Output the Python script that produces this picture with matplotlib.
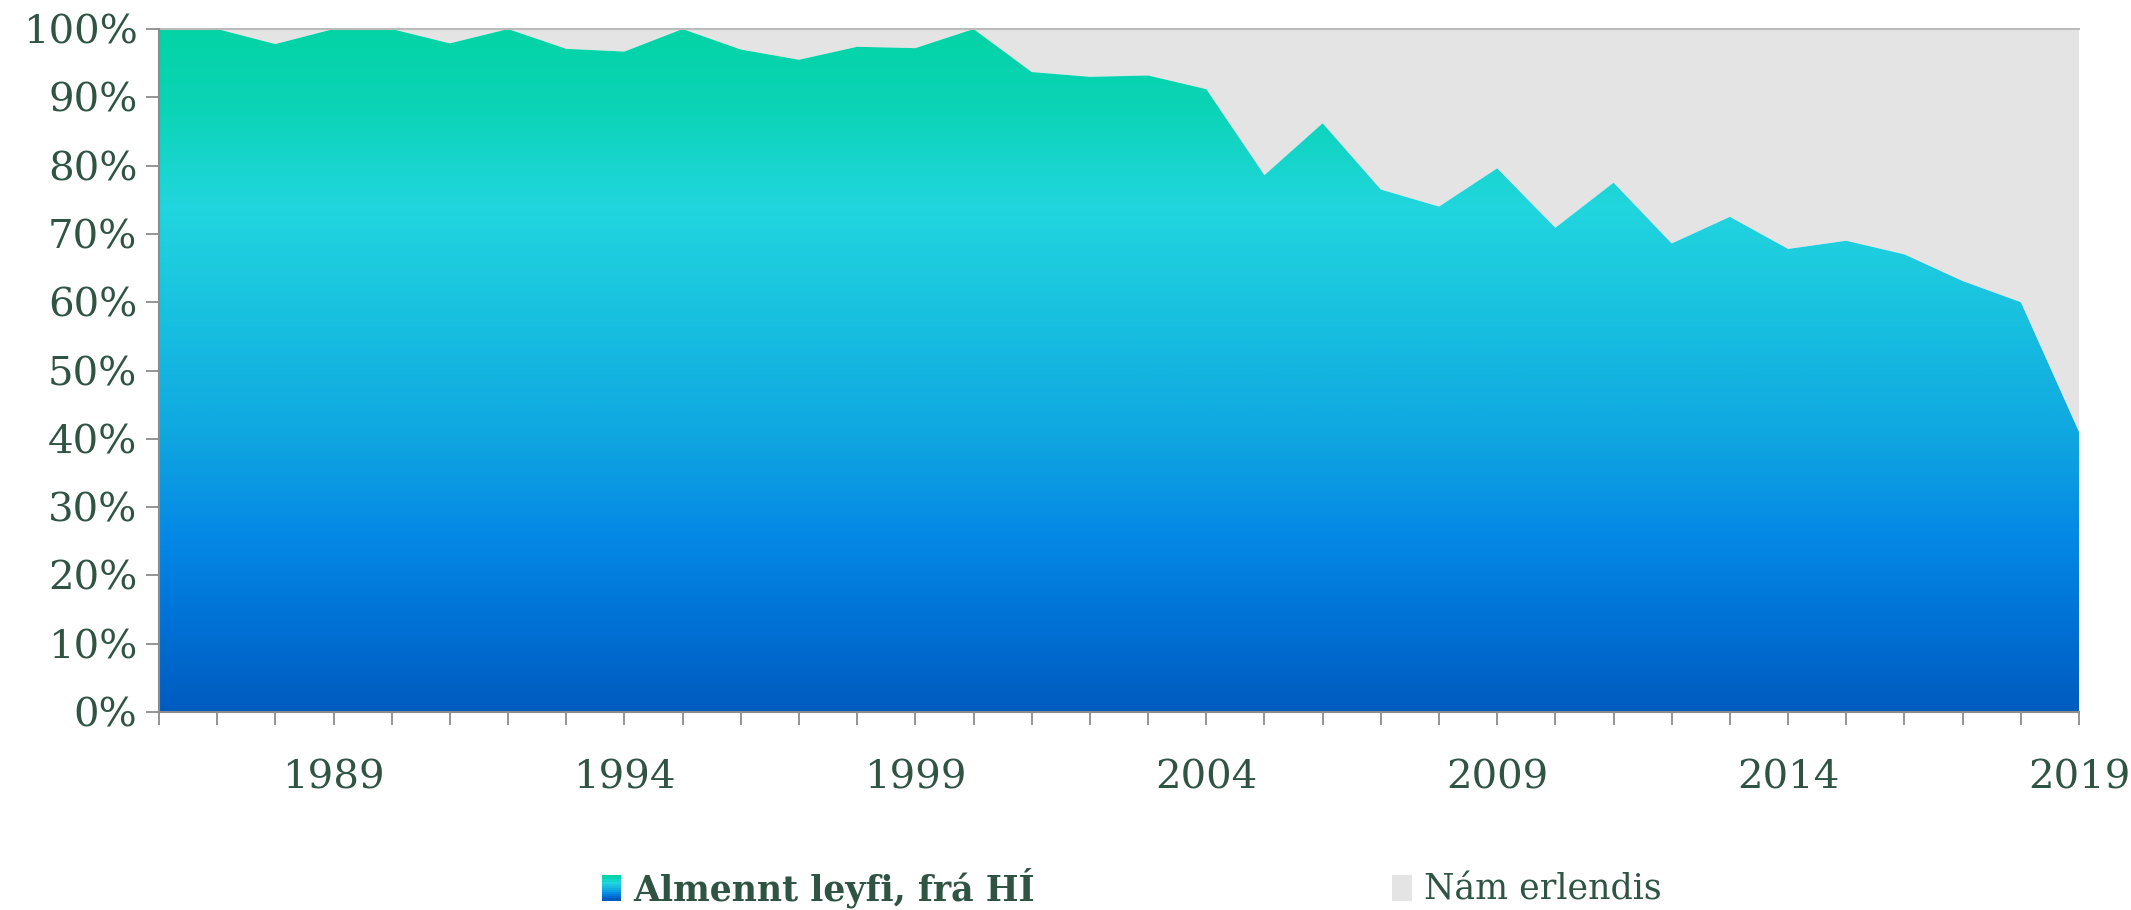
import numpy as np
import matplotlib.pyplot as plt
from matplotlib.colors import LinearSegmentedColormap
from matplotlib.patches import Polygon, Rectangle, Patch
from matplotlib.legend_handler import HandlerBase
from matplotlib.ticker import FuncFormatter

years = list(range(1986, 2020))
# share (%) per year
leyfi = [100, 100, 97.8, 100, 100, 97.9, 100, 97.1, 96.7, 100,
         97.0, 95.5, 97.4, 97.2, 100, 93.7, 93.0, 93.2, 91.2, 78.6,
         86.2, 76.5, 74.0, 79.6, 70.9, 77.5, 68.6, 72.5, 67.8, 69.0,
         67.0, 63.1, 60.0, 41.0]
erlendis = [0, 0, 2.2, 0, 0, 2.1, 0, 2.9, 3.3, 0,
            3.0, 4.5, 2.6, 2.8, 0, 6.3, 7.0, 6.8, 8.8, 21.4,
            13.8, 23.5, 26.0, 20.4, 29.1, 22.5, 31.4, 27.5, 32.2, 31.0,
            33.0, 36.9, 40.0, 59.0]
labels = ["Almennt leyfi, frá HÍ", "Nám erlendis"]
xtick_years = [1989, 1994, 1999, 2004, 2009, 2014, 2019]

txt_color = "#2F5443"
grey = "#E4E4E4"
grad = LinearSegmentedColormap.from_list("grad", [
    (0.0, "#005BBF"), (0.12, "#0070D4"), (0.26, "#0589E6"),
    (0.40, "#0FA6E0"), (0.55, "#17BCE0"), (0.74, "#21D6DE"),
    (0.88, "#0CD4B8"), (1.0, "#03D3A5")])

plt.rcParams["font.family"] = ["DejaVu Serif"]

x = np.array(years)
total = np.array(leyfi) + np.array(erlendis)
s1 = np.array(leyfi) / total * 100
s2 = np.array(erlendis) / total * 100

fig = plt.figure(figsize=(21.31, 9.10), dpi=100)
ax = fig.add_axes([0.0746, 0.2176, 0.9010, 0.7505])

# grey series on top
ax.fill_between(x, s1, s1 + s2, facecolor=grey, edgecolor="none", zorder=1)

# gradient series clipped to its area
verts = np.vstack([np.column_stack([x, s1]), [[x[-1], 0], [x[0], 0]]])
poly = Polygon(verts, closed=True, facecolor="none", edgecolor="none")
ax.add_patch(poly)
img = ax.imshow(np.linspace(0, 1, 256).reshape(-1, 1), cmap=grad, origin="lower",
                extent=[x[0], x[-1], 0, 100], aspect="auto", zorder=2)
img.set_clip_path(poly)

ax.set_xlim(x[0], x[-1])
ax.set_ylim(0, 100)

ax.set_yticks(range(0, 101, 10))
ax.yaxis.set_major_formatter(FuncFormatter(lambda v, p: f"{v:.0f}%"))
ax.set_xticks(years, minor=True)
ax.set_xticks(xtick_years)
ax.tick_params(axis="y", length=9.5, width=1.3, color="#8C8C8C", pad=6,
               labelsize=29, labelcolor=txt_color)
ax.tick_params(axis="x", which="both", length=9.5, width=1.3, color="#8C8C8C",
               pad=25, labelsize=29, labelcolor=txt_color)

for side in ["left", "bottom"]:
    ax.spines[side].set_color("#8C8C8C")
    ax.spines[side].set_linewidth(1.5)
    ax.spines[side].set_zorder(5)
ax.spines["right"].set_visible(False)
ax.spines["top"].set_color("#BBBBBB")
ax.spines["top"].set_linewidth(1.5)


class GradHandler(HandlerBase):
    def create_artists(self, legend, orig_handle, xdescent, ydescent,
                       width, height, fontsize, trans):
        n = 12
        arts = []
        for i in range(n):
            r = Rectangle((-xdescent, -ydescent + i * height / n), width, height / n,
                          facecolor=grad(i / (n - 1)), edgecolor="none", transform=trans)
            arts.append(r)
        return arts


h1 = Patch(facecolor="#17BCE0")
h2 = Patch(facecolor=grey, edgecolor="none")
leg = fig.legend([h1, h2], labels, loc="center", bbox_to_anchor=(0.531, 0.025),
                 ncol=2, frameon=False, fontsize=25, handlelength=0.55,
                 handleheight=0.75, handletextpad=0.35, columnspacing=10.3,
                 handler_map={h1: GradHandler()})
texts = leg.get_texts()
for t in texts:
    t.set_color(txt_color)
texts[0].set_fontweight("bold")

fig.savefig("out.png", dpi=100)
